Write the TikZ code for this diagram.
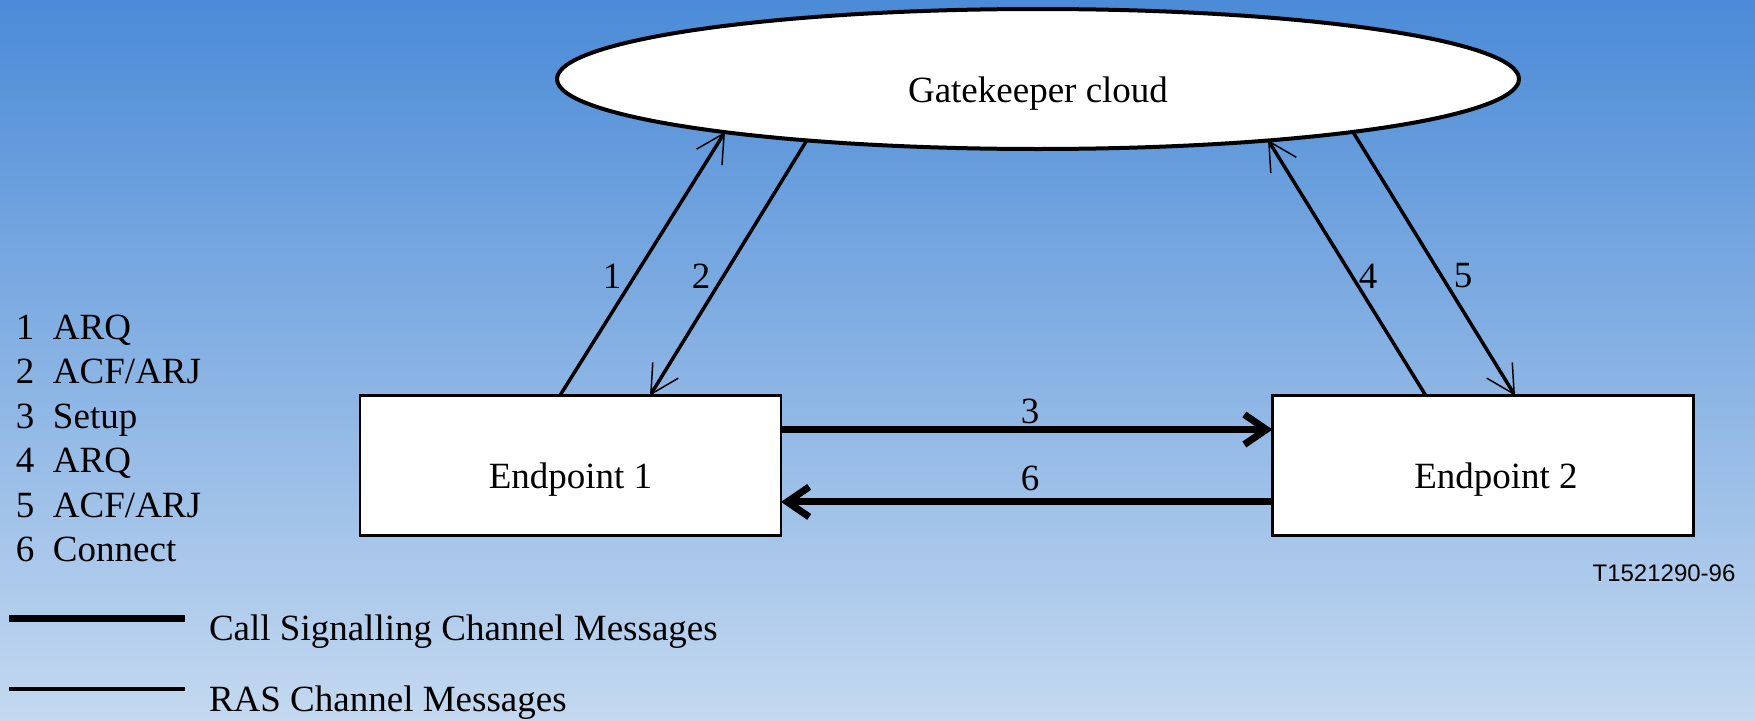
\documentclass[tikz,border=0pt]{standalone}
\usepackage{fontspec}
\setmainfont{Liberation Serif}
\newfontfamily\arialfont{Liberation Sans}
\usetikzlibrary{shapes.geometric,arrows.meta,calc,shadings}
\definecolor{bgtop}{HTML}{4B8BD7}
\definecolor{bgbot}{HTML}{C4D9F0}
\begin{document}
\begin{tikzpicture}[x=1pt,y=-1pt,
  every node/.style={outer sep=0pt},
  mainfont/.style={font=\fontsize{37}{44}\selectfont},
  box/.style={draw, line width=2.5pt, fill=white, minimum width=421pt, minimum height=140pt, inner sep=0pt, text height=50pt, text depth=5pt, mainfont},
  cloudnode/.style={ellipse, draw, line width=4pt, fill=white, minimum width=962pt, minimum height=140pt, inner sep=0pt, text height=50pt, text depth=4pt, mainfont},
  ras/.style={line width=3.5pt, -{Straight Barb[length=28pt,width=30pt,line width=1.5pt]}},
  csc/.style={line width=7pt, -{Straight Barb[length=22pt,width=30pt,line width=7pt]}},
  num/.style={mainfont, inner sep=0pt},
  legend/.style={mainfont, anchor=base west, inner sep=0pt},
]
\useasboundingbox (0,0) rectangle (1755,720);
\shade[top color=bgtop, bottom color=bgbot] (0,0) rectangle (1755,720);

\node[cloudnode] (gk) at (1038,79) {Gatekeeper cloud};
\node[box] (ep1) at (570.5,465.5) {Endpoint 1};
\node[box] (ep2) at (1483,465.5) {\hspace{26pt}Endpoint 2};

\draw[ras] ($(ep1.north west)!0.475!(ep1.north east)$) -- ($(gk.center)+(-313,53)$);
\draw[ras] ($(gk.center)+(-231,61)$) -- ($(ep1.north west)!0.689!(ep1.north east)$);
\draw[ras] ($(ep2.north west)!0.364!(ep2.north east)$) -- ($(gk.center)+(230,61)$);
\draw[ras] ($(gk.center)+(315,53)$) -- ($(ep2.north west)!0.576!(ep2.north east)$);

\draw[csc] ($(ep1.north east)!0.243!(ep1.south east)$) -- ($(ep2.north west)!0.243!(ep2.south west)$);
\draw[csc] ($(ep2.north west)!0.76!(ep2.south west)$) -- ($(ep1.north east)!0.76!(ep1.south east)$);

\node[num] (n1) at (612,276) {1};
\node[num] (n2) at (701,276) {2};
\node[num] (n4) at (1368,276) {4};
\node[num] (n5) at (1463,276) {5};
\node[num] (n3) at (1030,411) {3};
\node[num] (n6) at (1030,478) {6};

\node[font=\arialfont\fontsize{24}{28}\selectfont, inner sep=0pt, anchor=base] (tc) at (1664,581) {T1521290-96};

\node[legend] (l1) at (16,339) {1\hspace{0.5em}ARQ};
\node[legend] (l2) at (16,383.5) {2\hspace{0.5em}ACF/ARJ};
\node[legend] (l3) at (16,428) {3\hspace{0.5em}Setup};
\node[legend] (l4) at (16,472.5) {4\hspace{0.5em}ARQ};
\node[legend] (l5) at (16,517) {5\hspace{0.5em}ACF/ARJ};
\node[legend] (l6) at (16,561.5) {6\hspace{0.5em}Connect};

\coordinate (cs1) at (9,618);
\coordinate (cs2) at (185,618);
\coordinate (rs1) at (9,689);
\coordinate (rs2) at (185,689);
\draw[line width=7pt] (cs1) -- (cs2);
\draw[line width=3.5pt] (rs1) -- (rs2);
\node[legend] (lcs) at (209,640) {Call Signalling Channel Messages};
\node[legend] (lras) at (209,711) {RAS Channel Messages};
\end{tikzpicture}
\end{document}
